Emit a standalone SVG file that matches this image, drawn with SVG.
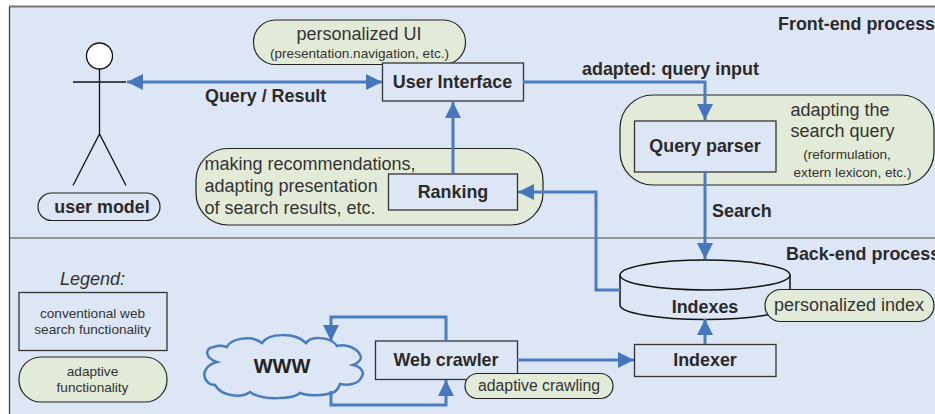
<svg xmlns="http://www.w3.org/2000/svg" width="935" height="414" viewBox="0 0 935 414">
<style>
text{font-family:"Liberation Sans",Arial,sans-serif;fill:#333}
.b{font-weight:bold;font-size:17.900px;fill:#2a2a2a}
.t{font-size:18px}
.s{font-size:13.600px}
.m{text-anchor:middle}
.box{fill:#dce6f5;stroke:#333;stroke-width:1.300}
.ad{fill:#e2ebd8;stroke:#222;stroke-width:1.200}
.fig{fill:none;stroke:#111;stroke-width:1.300}
.c{fill:none;stroke:#4a7cc0;stroke-width:3}
</style>
<defs>
<marker id="a" markerUnits="userSpaceOnUse" markerWidth="16" markerHeight="16" refX="16" refY="8" orient="auto-start-reverse"><path d="M0 0L16 8L0 16Z" fill="#4677bd"/></marker>
</defs>
<rect x="9" y="6.500" width="926" height="407.500" fill="#dce6f5"/>
<path d="M9 6.500H935" stroke="#777" stroke-width="2" fill="none"/>
<path d="M9.500 7V414" stroke="#333" stroke-width="1.200" fill="none"/>
<path d="M9 238H935" stroke="#444" stroke-width="1.200" fill="none"/>
<text class="b" x="778" y="30">Front-end process</text>
<text class="b" x="786" y="260">Back-end process</text>
<g id="user">
<circle cx="99.500" cy="56" r="13" fill="#fff" stroke="#111" stroke-width="1.300"/>
<path class="fig" d="M73 82H126M99.500 69V134M73 185.500L99.500 134L126 185.500"/>
<rect x="38" y="193" width="122" height="27.500" rx="13.700" fill="none" stroke="#222" stroke-width="1.200"/>
<text class="b" x="102" y="212.500" text-anchor="middle">user model</text>
</g>
<g id="personalized-ui">
<rect class="ad" x="253.500" y="20" width="212" height="44.500" rx="22"/>
<text class="t m" x="359" y="40">personalized UI</text>
<text class="s m" x="359.500" y="57.500">(presentation.navigation, etc.)</text>
</g>
<g id="user-interface">
<rect class="box" x="382.500" y="63" width="141" height="38"/>
<text class="b m" x="452.500" y="88">User Interface</text>
</g>
<g id="ranking">
<rect class="ad" x="196" y="148.500" width="347" height="76.500" rx="32"/>
<text class="t" x="204.500" y="170">making recommendations,</text>
<text class="t" x="204.500" y="192">adapting presentation</text>
<text class="t" x="204.500" y="214">of search results, etc.</text>
<rect class="box" x="388.500" y="174" width="129" height="36"/>
<text class="b m" x="453" y="198">Ranking</text>
</g>
<g id="query-parser">
<rect class="ad" x="620" y="95" width="314" height="90" rx="33"/>
<rect class="box" x="634.500" y="121" width="141.500" height="51"/>
<text class="b m" x="705" y="152">Query parser</text>
<text class="t" x="790.500" y="116">adapting the</text>
<text class="t" x="790.500" y="137">search query</text>
<text class="s m" x="847" y="159">(reformulation,</text>
<text class="s m" x="852.500" y="177">extern lexicon, etc.)</text>
</g>
<g id="indexes">
<path d="M620 275V305C620 313 658 319.500 705 319.500S790 313 790 305V275" fill="#dce6f5" stroke="#111" stroke-width="1.500"/>
<ellipse cx="705" cy="275" rx="85" ry="15" fill="#dce6f5" stroke="#111" stroke-width="1.500"/>
<text class="b m" x="705" y="313">Indexes</text>
</g>
<g id="personalized-index">
<rect class="ad" x="765" y="289.500" width="169" height="32" rx="16"/>
<text class="t" x="774" y="311">personalized index</text>
</g>
<g id="indexer">
<rect class="box" x="634.500" y="344.500" width="141.500" height="32"/>
<text class="b m" x="705" y="366">Indexer</text>
</g>
<g id="web-crawler">
<rect class="box" x="375.500" y="341" width="142" height="38.500"/>
<text class="b m" x="446" y="365.500">Web crawler</text>
</g>
<g id="adaptive-crawling">
<rect class="ad" x="465" y="373.500" width="148" height="25" rx="12.500"/>
<text x="478" y="391" style="font-size:15.800px">adaptive crawling</text>
</g>
<g id="www">
<path d="M217 362C205 358 204 348 214 347C218 345 224 346 227 347C231 338 252 335 262 343C268 333 295 332 306 343C311 336 330 336 337 346C345 344 358 347 361 357C361 361 356 364 353 365C362 367 365 373 361 378C358 384 348 386 340 384C338 390 335 392 332 393C322 396 308 396 300 393C294 399 262 401 250 392C242 398 222 397 215 385C203 385 198 367 217 362Z" fill="#dce6f5" stroke="#4a7cc0" stroke-width="2.500"/>
<text x="282" y="373" text-anchor="middle" style="font-size:20px;font-weight:bold;fill:#222">WWW</text>
</g>
<g id="legend">
<text x="92.500" y="285" text-anchor="middle" style="font-size:18px;font-style:italic">Legend:</text>
<rect class="box" x="19" y="292.500" width="148" height="58"/>
<text class="s m" x="92.500" y="318">conventional web</text>
<text class="s m" x="92.500" y="334">search functionality</text>
<rect class="ad" x="19" y="357" width="148" height="45" rx="22"/>
<text class="s m" x="92.500" y="376">adaptive</text>
<text class="s m" x="92.500" y="392">functionality</text>
</g>
<g id="connectors">
<path class="c" d="M127 82H382" marker-start="url(#a)" marker-end="url(#a)"/>
<path class="c" d="M453 174V102" marker-end="url(#a)"/>
<path class="c" d="M523 82H705V120" marker-end="url(#a)"/>
<path class="c" d="M705 172V259" marker-end="url(#a)"/>
<path class="c" d="M620 290H596V192H518" marker-end="url(#a)"/>
<path class="c" d="M705 344V319" marker-end="url(#a)"/>
<path class="c" d="M517 360H634" marker-end="url(#a)"/>
<path class="c" d="M446 341V317H331V341" marker-end="url(#a)"/>
<path class="c" d="M331 391V405H446V380" marker-end="url(#a)"/>
</g>
<g id="labels">
<text class="b" x="205" y="102">Query / Result</text>
<text class="b" x="582" y="75">adapted: query input</text>
<text class="b" x="712" y="217">Search</text>
</g>
</svg>
